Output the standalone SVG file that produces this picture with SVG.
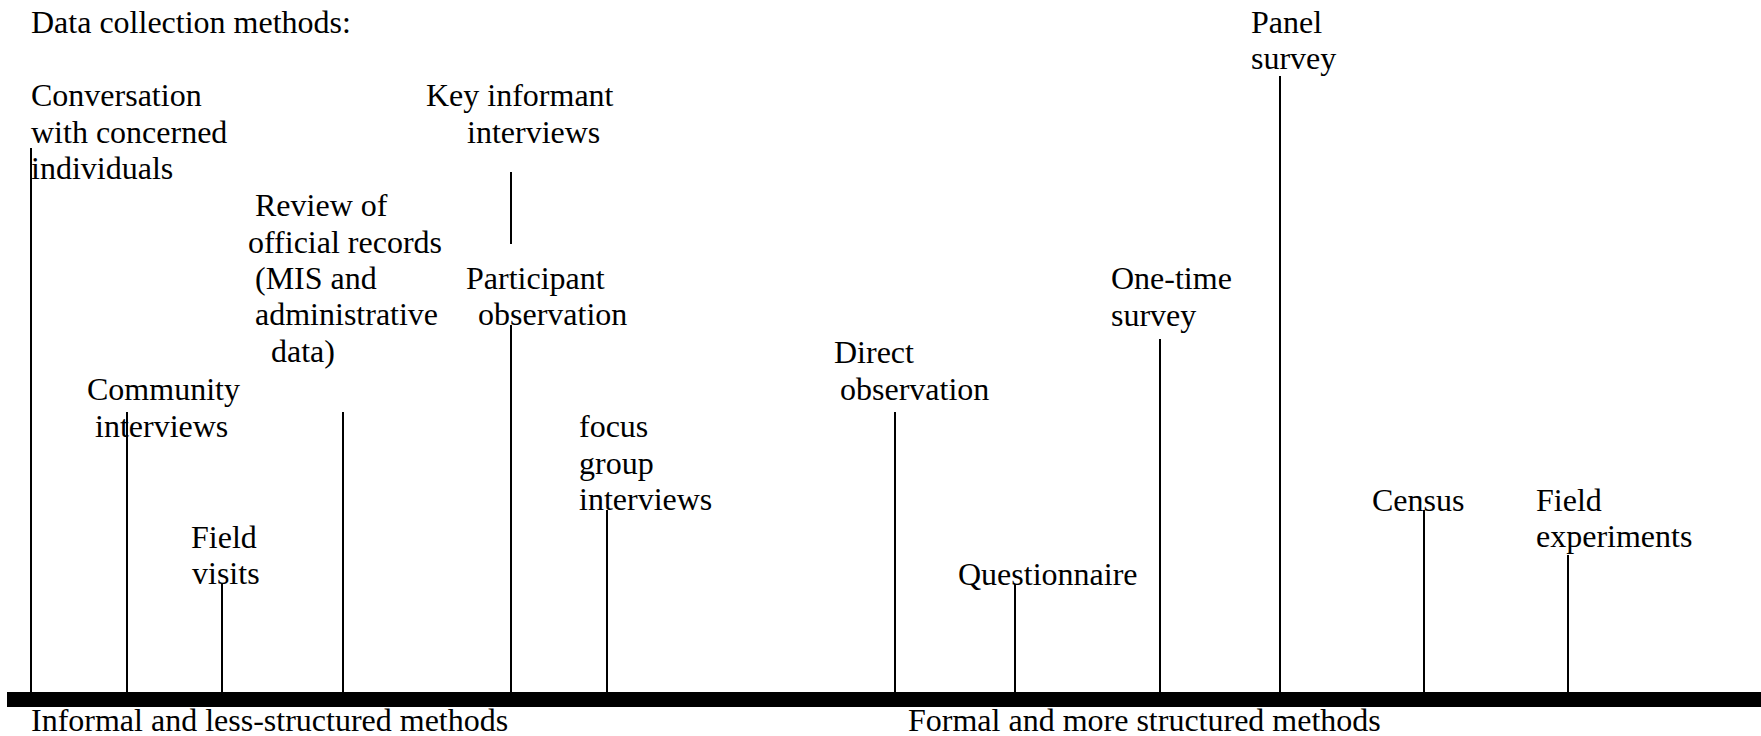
<svg xmlns="http://www.w3.org/2000/svg" width="1761" height="736" viewBox="0 0 1761 736">
<style>
text{font-family:"Liberation Serif","Times New Roman",serif;font-size:32px;fill:#000}
.c line{stroke:#000;stroke-width:2}
</style>
<rect width="1761" height="736" fill="#fff"/>
<text x="31" y="33">Data collection methods:</text>
<g class="c" id="connectors">
<rect x="7" y="692" width="1754" height="15" fill="#000"/>
<line x1="31" y1="148" x2="31" y2="692"/>
<line x1="127" y1="412" x2="127" y2="692"/>
<line x1="222" y1="583" x2="222" y2="692"/>
<line x1="343" y1="412" x2="343" y2="692"/>
<line x1="511" y1="172" x2="511" y2="244"/>
<line x1="511" y1="325" x2="511" y2="692"/>
<line x1="607" y1="510" x2="607" y2="692"/>
<line x1="895" y1="412" x2="895" y2="692"/>
<line x1="1015" y1="584" x2="1015" y2="692"/>
<line x1="1160" y1="339" x2="1160" y2="692"/>
<line x1="1280" y1="76" x2="1280" y2="692"/>
<line x1="1424" y1="510" x2="1424" y2="692"/>
<line x1="1568" y1="555" x2="1568" y2="692"/>
</g>
<g id="conversation"><text x="31" y="106">Conversation</text><text x="31" y="143">with concerned</text><text x="31" y="179">individuals</text></g>
<g id="key-informant"><text x="426" y="106">Key informant</text><text x="467" y="143">interviews</text></g>
<g id="review"><text x="255" y="216">Review of</text><text x="248" y="253">official records</text><text x="255" y="289">(MIS and</text><text x="255" y="325">administrative</text><text x="271" y="362">data)</text></g>
<g id="participant"><text x="466" y="289">Participant</text><text x="478" y="325">observation</text></g>
<g id="community"><text x="87" y="400">Community</text><text x="95" y="437">interviews</text></g>
<g id="field-visits"><text x="191" y="548">Field</text><text x="192" y="584">visits</text></g>
<g id="focus"><text x="579" y="437">focus</text><text x="579" y="474">group</text><text x="579" y="510">interviews</text></g>
<g id="direct"><text x="834" y="363">Direct</text><text x="840" y="400">observation</text></g>
<g id="questionnaire"><text x="958" y="585">Questionnaire</text></g>
<g id="one-time"><text x="1111" y="289">One-time</text><text x="1111" y="326">survey</text></g>
<g id="panel"><text x="1251" y="33">Panel</text><text x="1251" y="69">survey</text></g>
<g id="census"><text x="1372" y="511">Census</text></g>
<g id="field-experiments"><text x="1536" y="511">Field</text><text x="1536" y="547">experiments</text></g>
<text x="31" y="731">Informal and less-structured methods</text>
<text x="908" y="731">Formal and more structured methods</text>
</svg>
